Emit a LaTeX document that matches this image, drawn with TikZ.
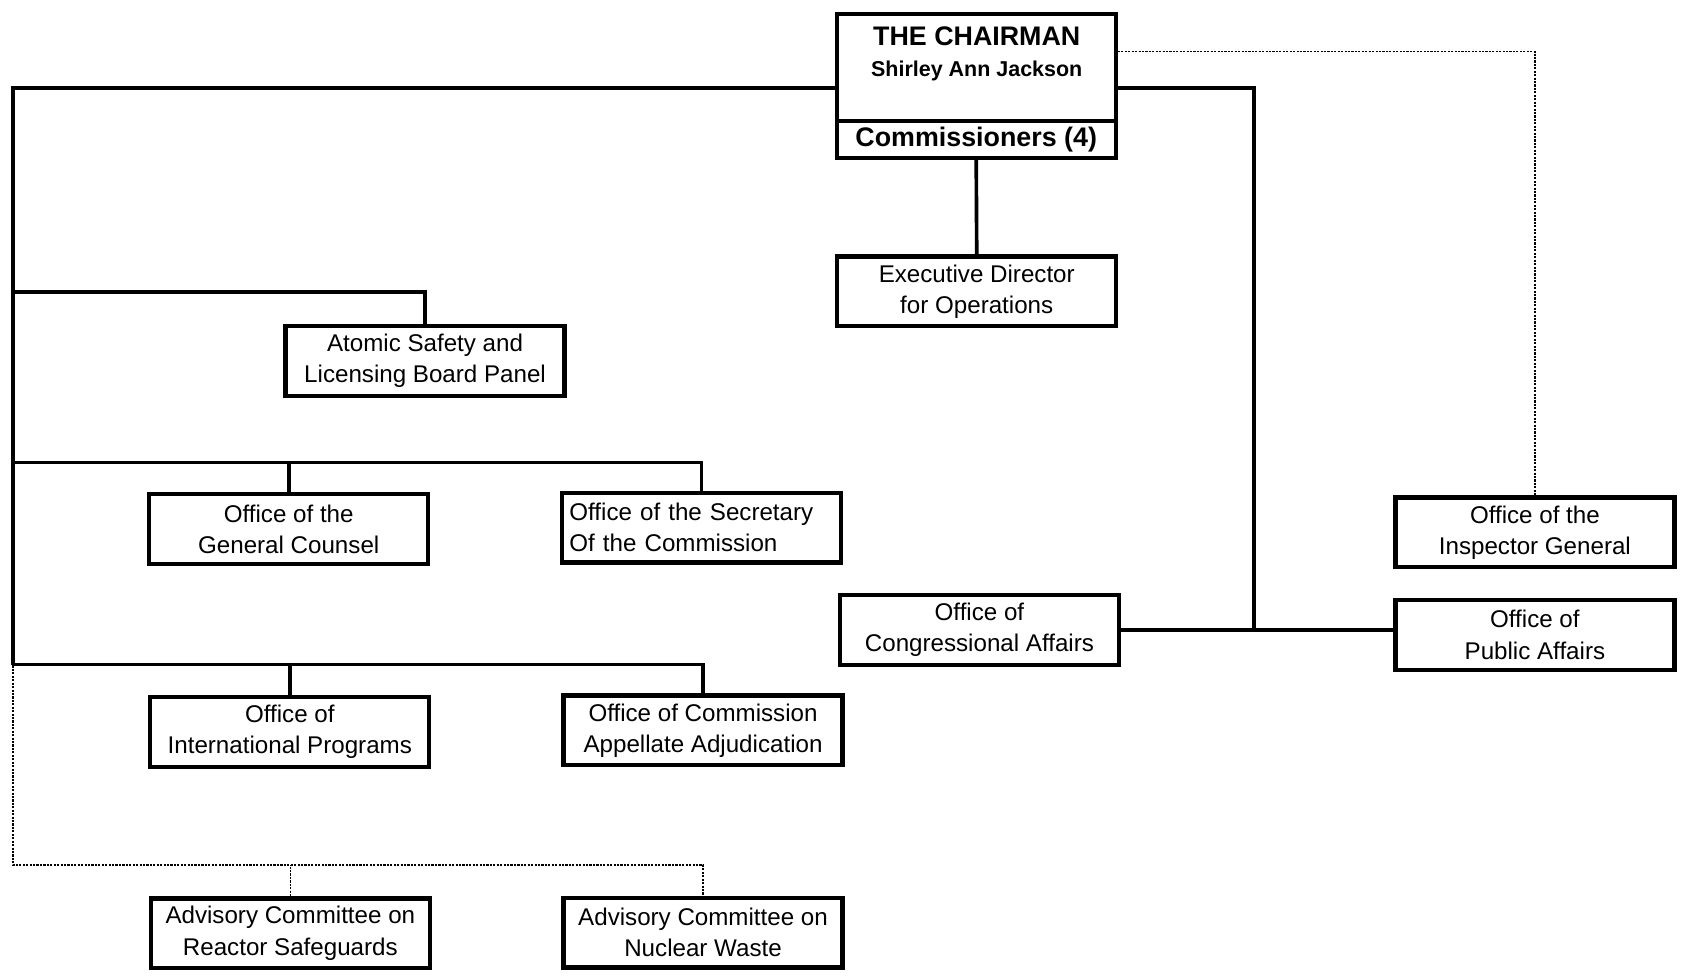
\documentclass[tikz,border=0pt]{standalone}
\usepackage{fontspec}
\setmainfont{Liberation Sans}

\begin{document}
\begin{tikzpicture}[x=0.5pt, y=-0.5pt,
	office/.style={draw=black, line width=2pt, minimum width=130pt, minimum height=32.5pt, inner sep=2pt, align=center, font=\fontsize{11.25}{14.5}\selectfont},
	link/.style={line width=1.7pt},
	dotlink/.style={line width=0.7pt, dash pattern=on 1pt off 0.6pt}]
	\useasboundingbox (0,0) rectangle (1568,909);

	% chairman
	\node[office, minimum height=50pt] (chair) at (909.5,63) {};
	\node[office, minimum height=17pt, font=\fontsize{12.5}{14}\selectfont\bfseries] (comm) at (909.5,130) {Commissioners (4)};
	\node[anchor=base, font=\fontsize{12.5}{14}\selectfont\bfseries] (chairtitle) at (910,42) {THE CHAIRMAN};
	\node[anchor=base, font=\fontsize{10}{12}\selectfont\bfseries] (chairname) at (910,71) {Shirley Ann Jackson};

	\node[office] (edo) at (910,271.5) {Executive Director\\for Operations};
	\node[office] (aslbp) at (396,336.5) {Atomic Safety and\\Licensing Board Panel};
	\node[office] (ogc) at (269,493) {Office of the\\General Counsel};
	\node[office, align=left, inner xsep=3.5pt, text width=123pt] (secy) at (653.5,491.5) {Office of the Secretary\\Of the Commission};
	\node[office] (oip) at (270,682) {Office of\\International Programs};
	\node[office] (ocaa) at (655,680.5) {Office of Commission\\Appellate Adjudication};
	\node[office] (acrs) at (270.5,869.5) {Advisory Committee on\\Reactor Safeguards};
	\node[office] (acnw) at (655,869) {Advisory Committee on\\Nuclear Waste};
	\node[office] (oca) at (912.5,587) {Office of\\Congressional Affairs};
	\node[office] (oig) at (1430,496) {Office of the\\Inspector General};
	\node[office] (opa) at (1430,591.5) {Office of\\Public Affairs};

	\coordinate (lt) at (12,82);
	\coordinate (lb) at (12,620);
	\coordinate (ld) at (12,806);
	\coordinate (b1) at (12,272);
	\coordinate (b2) at (12,431);
	\coordinate (b3) at (12,619);
	\coordinate (rt) at (1168,82);
	\coordinate (dt) at (1430,48);

	% left side
	\draw[link] (chair.west |- lt) -- (lt) -- (lb);
	\draw[link] (b1) -| (aslbp.north);
	\draw[link] (b2) -| (secy.north);
	\draw[link] (ogc.north) -- (ogc.north |- b2);
	\draw[link] (b3) -| (ocaa.north);
	\draw[link] (oip.north) -- (oip.north |- b3);
	\draw[dotlink] (lb) -- (ld) -| (acnw.north);
	\draw[dotlink] (acrs.north) -- (acrs.north |- ld);

	% right side
	\draw[link] (comm.south) -- (edo.north);
	\draw[link] (chair.east |- rt) -- (rt) -- (rt |- oca.east);
	\draw[link] (oca.east) -- (oca.east -| opa.west);
	\draw[dotlink] (chair.east |- dt) -- (dt) -- (oig.north);

\end{tikzpicture}
\end{document}
